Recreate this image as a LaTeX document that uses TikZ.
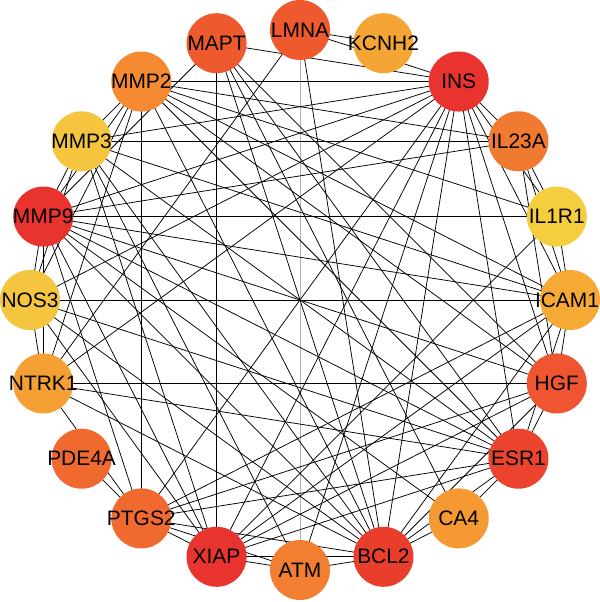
\documentclass[tikz,border=0pt]{standalone}
\usepackage{fontspec}
\setmainfont{Liberation Sans}
\usetikzlibrary{backgrounds}
\definecolor{cLM}{HTML}{EE5A2E}
\definecolor{cKC}{HTML}{F5A533}
\definecolor{cIN}{HTML}{E8332E}
\definecolor{cIt}{HTML}{F07A30}
\definecolor{cIo}{HTML}{F5CE3E}
\definecolor{cIC}{HTML}{F6AA36}
\definecolor{cHG}{HTML}{EE5530}
\definecolor{cES}{HTML}{EB432D}
\definecolor{cCA}{HTML}{F59A33}
\definecolor{cBC}{HTML}{EA3E2C}
\definecolor{cAT}{HTML}{F27F31}
\definecolor{cXI}{HTML}{E8332E}
\definecolor{cPT}{HTML}{F06A30}
\definecolor{cPD}{HTML}{F06A30}
\definecolor{cNT}{HTML}{F5A034}
\definecolor{cNO}{HTML}{F5C540}
\definecolor{cMn}{HTML}{E8332E}
\definecolor{cMt}{HTML}{F5C540}
\definecolor{cMw}{HTML}{F58A33}
\definecolor{cMA}{HTML}{EE5A2E}
\begin{document}
\begin{tikzpicture}[x=1bp,y=1bp,
  gene/.style={circle,minimum size=60bp,inner sep=0pt},
  genetext/.style={text=black,inner sep=0pt,font=\fontsize{21}{21}\selectfont},
  link/.style={line width=0.75bp,black}]
\useasboundingbox (0,0) rectangle (600,602);
\foreach \nm/\lab/\col/\dx [count=\i from 0] in {
  LM/LMNA/cLM/0, KC/KCNH2/cKC/0, IN/INS/cIN/0, I23/IL23A/cIt/0, I1R/IL1R1/cIo/0,
  IC/ICAM1/cIC/-3, HG/HGF/cHG/0, ES/ESR1/cES/0, CA/CA4/cCA/0, BC/BCL2/cBC/0,
  AT/ATM/cAT/0, XI/XIAP/cXI/0, PT/PTGS2/cPT/0, PD/PDE4A/cPD/0, NT/NTRK1/cNT/0,
  NO/NOS3/cNO/0, M9/MMP9/cMn/0, M3/MMP3/cMt/0, M2/MMP2/cMw/0, MA/MAPT/cMA/0} {
  \path (300,302) ++({90-18*\i}:270bp) node[gene,fill=\col,
     label={[genetext,xshift=\dx bp]center:\lab}] (\nm) {};
}
\begin{scope}[on background layer]
\draw[link,gray!60] (LM.center) -- (AT.center);
\foreach \a/\b in {
  LM/KC, LM/IN, LM/BC, LM/NT,
  MA/IN, MA/BC, MA/CA, MA/ES, MA/HG, MA/M9, MA/XI,
  M2/IN, M2/I23, M2/I1R, M2/IC, M2/HG, M2/ES, M2/BC, M2/PT, M2/NT, M2/NO, M2/M9, M2/M3,
  M3/I23, M3/IN, M3/ES, M3/M9, M3/NO, M3/IC, M3/BC, M3/XI, M3/AT,
  M9/I1R, M9/IN, M9/NO, M9/NT, M9/PT, M9/XI, M9/BC, M9/ES, M9/HG, M9/IC, M9/I23, M9/CA,
  NO/IC, NO/IN, NO/NT, NO/BC, NO/XI, NO/ES,
  NT/HG, NT/BC, NT/ES, NT/PT, NT/IN,
  PD/PT,
  PT/IN, PT/XI, PT/AT, PT/BC, PT/ES, PT/HG, PT/IC,
  XI/AT, XI/BC, XI/IN, XI/ES, XI/HG, XI/IC, XI/I1R,
  AT/BC, AT/IN,
  BC/IN, BC/ES, BC/HG, BC/CA, BC/IC,
  CA/ES, ES/IN, ES/HG, ES/IC,
  HG/IN, HG/IC, HG/I23,
  IC/IN, IC/I1R, IC/I23, I1R/IN, I1R/I23, I23/IN} {
  \draw[link] (\a.center) -- (\b.center);
}
\end{scope}
\end{tikzpicture}
\end{document}
